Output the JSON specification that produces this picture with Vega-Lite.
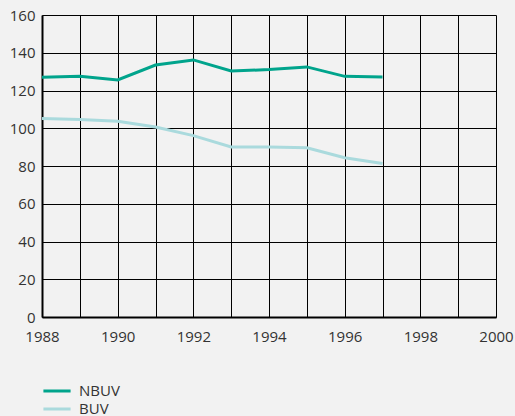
{
  "$schema": "https://vega.github.io/schema/vega-lite/v6.json",
  "width": 454,
  "height": 302,
  "autosize": "none",
  "padding": {"left": 42, "top": 15, "right": 19, "bottom": 99},
  "background": "#f2f2f2",
  "config": {
    "view": {"stroke": null},
    "font": "Open Sans",
    "axis": {"labelFont": "Open Sans", "labelFontSize": 15, "labelColor": "#333333", "grid": true, "gridColor": "#000000", "gridOpacity": 1, "gridWidth": 1, "domainColor": "#000000", "domainWidth": 2, "ticks": false, "title": null}
  },
  "data": {
    "values": [
      {"year": 1988, "series": "NBUV", "value": 127.0},
      {"year": 1989, "series": "NBUV", "value": 127.5},
      {"year": 1990, "series": "NBUV", "value": 125.6},
      {"year": 1991, "series": "NBUV", "value": 133.5},
      {"year": 1992, "series": "NBUV", "value": 136.2},
      {"year": 1993, "series": "NBUV", "value": 130.3},
      {"year": 1994, "series": "NBUV", "value": 131.1},
      {"year": 1995, "series": "NBUV", "value": 132.5},
      {"year": 1996, "series": "NBUV", "value": 127.5},
      {"year": 1997, "series": "NBUV", "value": 127.2},
      {"year": 1988, "series": "BUV", "value": 105.1},
      {"year": 1989, "series": "BUV", "value": 104.6},
      {"year": 1990, "series": "BUV", "value": 103.7},
      {"year": 1991, "series": "BUV", "value": 100.7},
      {"year": 1992, "series": "BUV", "value": 96.1},
      {"year": 1993, "series": "BUV", "value": 90.1},
      {"year": 1994, "series": "BUV", "value": 90.1},
      {"year": 1995, "series": "BUV", "value": 89.7},
      {"year": 1996, "series": "BUV", "value": 84.4},
      {"year": 1997, "series": "BUV", "value": 81.3}
    ]
  },
  "mark": {"type": "line", "strokeWidth": 3},
  "encoding": {
    "x": {
      "field": "year", "type": "quantitative",
      "scale": {"domain": [1988, 2000], "nice": false, "zero": false},
      "axis": {"values": [1988,1989,1990,1991,1992,1993,1994,1995,1996,1997,1998,1999,2000], "format": "d", "labelExpr": "datum.value % 2 == 0 ? datum.label : ''", "labelPadding": 12, "labelFlush": false, "labelOverlap": false}
    },
    "y": {
      "field": "value", "type": "quantitative",
      "scale": {"domain": [0, 160], "nice": false},
      "axis": {"values": [0,20,40,60,80,100,120,140,160], "labelPadding": 7}
    },
    "color": {
      "field": "series", "type": "nominal",
      "scale": {"domain": ["NBUV", "BUV"], "range": ["#00a48c", "#aadadd"]},
      "legend": {"orient": "none", "legendX": 5, "legendY": 366, "title": null, "symbolType": "M-1.6,0H1.6", "symbolSize": 289, "symbolStrokeWidth": 3, "symbolFillColor": "transparent", "labelFontSize": 15, "labelFont": "Open Sans", "labelColor": "#333333", "rowPadding": 0, "labelOffset": 12}
    }
  }
}
